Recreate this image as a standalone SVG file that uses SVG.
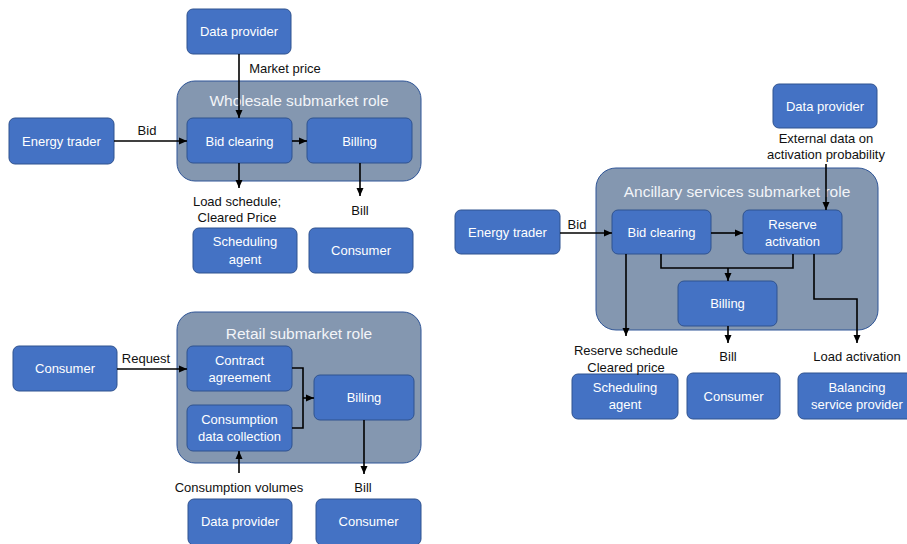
<svg xmlns="http://www.w3.org/2000/svg" width="907" height="544" viewBox="0 0 907 544">
<defs>
<marker id="ah" viewBox="0 0 8 8" refX="8" refY="4" markerWidth="8" markerHeight="8" markerUnits="userSpaceOnUse" orient="auto">
<path d="M0,0.5 L8,4 L0,7.5 Z" fill="#000"/>
</marker>
<style>
.cont{fill:#8497B0;stroke:#2F5597;stroke-width:1}
.node{fill:#4472C4;stroke:#2F528F;stroke-width:1}
.nt{font-family:"Liberation Sans",Arial,sans-serif;font-size:13px;fill:#fff;text-anchor:middle}
.tt{font-family:"Liberation Sans",Arial,sans-serif;font-size:15.5px;fill:#F2F4F8;text-anchor:middle}
.lb{font-family:"Liberation Sans",Arial,sans-serif;font-size:13px;fill:#111;text-anchor:middle}
.cn{fill:none;stroke:#000;stroke-width:1.6}
.ar{marker-end:url(#ah)}
</style>
</defs>
<rect width="907" height="544" fill="#fff"/>

<!-- Containers -->
<g id="wholesale">
<rect class="cont" x="177" y="81" width="244" height="100" rx="18"/>
<text class="tt" x="299" y="106">Wholesale submarket role</text>
</g>
<g id="retail">
<rect class="cont" x="177" y="312" width="244" height="151" rx="18"/>
<text class="tt" x="299" y="339">Retail submarket role</text>
</g>
<g id="ancillary">
<rect class="cont" x="596" y="168" width="282" height="162" rx="20"/>
<text class="tt" x="737" y="197">Ancillary services submarket role</text>
</g>

<!-- Wholesale nodes -->
<g id="w-data-provider"><rect class="node" x="187" y="9" width="104" height="45" rx="6"/><text class="nt" x="239" y="36">Data provider</text></g>
<g id="w-energy-trader"><rect class="node" x="9" y="118" width="105" height="46" rx="6"/><text class="nt" x="61.5" y="146">Energy trader</text></g>
<g id="w-bid-clearing"><rect class="node" x="187" y="118" width="105" height="45" rx="6"/><text class="nt" x="239.5" y="146">Bid clearing</text></g>
<g id="w-billing"><rect class="node" x="307" y="118" width="105" height="45" rx="6"/><text class="nt" x="359.5" y="146">Billing</text></g>
<g id="w-scheduling-agent"><rect class="node" x="193" y="228" width="104" height="45" rx="6"/><text class="nt" x="245" y="246">Scheduling</text><text class="nt" x="245" y="264">agent</text></g>
<g id="w-consumer"><rect class="node" x="309" y="228" width="104" height="45" rx="6"/><text class="nt" x="361" y="255">Consumer</text></g>

<!-- Retail nodes -->
<g id="r-consumer"><rect class="node" x="13" y="346" width="104" height="45" rx="6"/><text class="nt" x="65" y="373">Consumer</text></g>
<g id="r-contract"><rect class="node" x="187" y="346" width="105" height="45" rx="6"/><text class="nt" x="239.5" y="365">Contract</text><text class="nt" x="239.5" y="382">agreement</text></g>
<g id="r-consumption"><rect class="node" x="187" y="405" width="105" height="46" rx="6"/><text class="nt" x="239.5" y="424">Consumption</text><text class="nt" x="239.5" y="441">data collection</text></g>
<g id="r-billing"><rect class="node" x="314" y="375" width="100" height="45" rx="6"/><text class="nt" x="364" y="402">Billing</text></g>
<g id="r-data-provider"><rect class="node" x="188" y="499" width="104" height="46" rx="6"/><text class="nt" x="240" y="526">Data provider</text></g>
<g id="r-consumer2"><rect class="node" x="316" y="499" width="105" height="46" rx="6"/><text class="nt" x="368.5" y="526">Consumer</text></g>

<!-- Ancillary nodes -->
<g id="a-data-provider"><rect class="node" x="773" y="84" width="104" height="44" rx="6"/><text class="nt" x="825" y="111">Data provider</text></g>
<g id="a-energy-trader"><rect class="node" x="455" y="210" width="105" height="44" rx="6"/><text class="nt" x="507.5" y="237">Energy trader</text></g>
<g id="a-bid-clearing"><rect class="node" x="612" y="210" width="99" height="44" rx="6"/><text class="nt" x="661.5" y="237">Bid clearing</text></g>
<g id="a-reserve"><rect class="node" x="743" y="210" width="99" height="44" rx="6"/><text class="nt" x="792.5" y="229">Reserve</text><text class="nt" x="792.5" y="246">activation</text></g>
<g id="a-billing"><rect class="node" x="678" y="281" width="99" height="45" rx="6"/><text class="nt" x="727.5" y="308">Billing</text></g>
<g id="a-scheduling-agent"><rect class="node" x="572" y="374" width="106" height="45" rx="6"/><text class="nt" x="625" y="392">Scheduling</text><text class="nt" x="625" y="409">agent</text></g>
<g id="a-consumer"><rect class="node" x="687" y="373" width="93" height="46" rx="6"/><text class="nt" x="733.5" y="401">Consumer</text></g>
<g id="a-bsp"><rect class="node" x="798" y="373" width="116" height="46" rx="6"/><text class="nt" x="857" y="392">Balancing</text><text class="nt" x="857" y="409">service provider</text></g>

<!-- Connectors -->
<g id="connectors">
<path class="cn ar" d="M239,54 V118"/>
<path class="cn ar" d="M114,141 H187"/>
<path class="cn ar" d="M292,141 H307"/>
<path class="cn ar" d="M239,163 V188"/>
<path class="cn ar" d="M360,163 V196"/>

<path class="cn ar" d="M117,369 H187"/>
<path class="cn" d="M292,368 H303 V428 H292"/>
<path class="cn ar" d="M303,398 H314"/>
<path class="cn ar" d="M239,473 V451"/>
<path class="cn ar" d="M364,420 V474"/>

<path class="cn ar" d="M560,233 H612"/>
<path class="cn ar" d="M711,233 H743"/>
<path class="cn ar" d="M826,164 V210"/>
<path class="cn ar" d="M626,254 V336"/>
<path class="cn" d="M661,254 V268 H793 V254"/>
<path class="cn ar" d="M728,268 V281"/>
<path class="cn ar" d="M814,254 V299 H857 V343"/>
<path class="cn ar" d="M728,326 V343"/>
</g>

<!-- Labels -->
<g id="labels">
<text class="lb" x="285" y="73" style="text-anchor:middle">Market price</text>
<text class="lb" x="147" y="135">Bid</text>
<text class="lb" x="237" y="206">Load schedule;</text>
<text class="lb" x="237" y="222">Cleared Price</text>
<text class="lb" x="360" y="215">Bill</text>

<text class="lb" x="146" y="363">Request</text>
<text class="lb" x="239" y="492">Consumption volumes</text>
<text class="lb" x="363" y="492">Bill</text>

<text class="lb" x="826" y="143">External data on</text>
<text class="lb" x="826" y="159">activation probability</text>
<text class="lb" x="577" y="229">Bid</text>
<text class="lb" x="626" y="355">Reserve schedule</text>
<text class="lb" x="626" y="372">Cleared price</text>
<text class="lb" x="728" y="361">Bill</text>
<text class="lb" x="857" y="361">Load activation</text>
</g>
</svg>
